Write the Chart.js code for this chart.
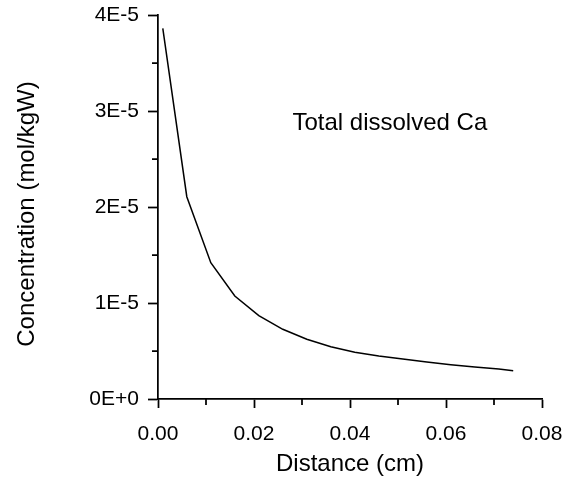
<!DOCTYPE html>
<html>
<head>
<meta charset="utf-8">
<script src="https://cdn.jsdelivr.net/npm/chart.js@4.4.1/dist/chart.umd.min.js"></script>
<style>
  html, body { margin: 0; padding: 0; background: #fff; }
  #wrap { width: 568px; height: 477px; }
</style>
</head>
<body>
<div id="wrap"><canvas id="caChart" width="568" height="477"></canvas></div>
<script>
// distance (cm) and total dissolved Ca (mol/kgW)
const distance = [0.001, 0.006, 0.011, 0.016, 0.021, 0.026, 0.031, 0.036, 0.041, 0.046,
                  0.051, 0.056, 0.061, 0.066, 0.071, 0.074];
const totalCa = [3.86e-5, 2.107e-5, 1.42e-5, 1.073e-5, 0.868e-5, 0.726e-5, 0.622e-5, 0.545e-5,
                 0.486e-5, 0.448e-5, 0.417e-5, 0.385e-5, 0.357e-5, 0.333e-5, 0.313e-5, 0.295e-5];

const xTicks = [0, 0.02, 0.04, 0.06, 0.08];
const yTicks = [0, 1e-5, 2e-5, 3e-5, 4e-5];
const xMinorTicks = [0.01, 0.03, 0.05, 0.07];
const yMinorTicks = [0.5e-5, 1.5e-5, 2.5e-5, 3.5e-5];

const FONT = "'Liberation Sans', Arial, sans-serif";

// format like 4E-5 / 0E+0
function sciLabel(v) {
  if (Math.abs(v) < 1e-12) return '0E+0';
  const e = Math.floor(Math.log10(Math.abs(v)) + 1e-9);
  const m = Math.round(v / Math.pow(10, e));
  return m + 'E' + (e < 0 ? '-' : '+') + Math.abs(e);
}

// keep the plot box where the padding says, ignore label overhang
function noOverhang(s) {
  s.paddingTop = 0;
  s.paddingBottom = 0;
  s.paddingLeft = 0;
  s.paddingRight = 0;
}

// short minor ticks between the labelled ones
const minorTicks = {
  id: 'minorTicks',
  afterDraw(chart) {
    const ctx = chart.ctx;
    const xs = chart.scales.x, ys = chart.scales.y;
    const area = chart.chartArea;
    ctx.save();
    ctx.strokeStyle = '#000';
    ctx.lineWidth = 1.75;
    ctx.beginPath();
    xMinorTicks.forEach(v => {
      const px = xs.getPixelForValue(v);
      ctx.moveTo(px, area.bottom);
      ctx.lineTo(px, area.bottom + 6);
    });
    yMinorTicks.forEach(v => {
      const py = ys.getPixelForValue(v);
      ctx.moveTo(area.left, py);
      ctx.lineTo(area.left - 6, py);
    });
    ctx.stroke();
    ctx.restore();
  }
};

// annotation text and the y axis title
const labels = {
  id: 'labels',
  afterDraw(chart) {
    const ctx = chart.ctx;
    const px = chart.scales.x.getPixelForValue(0.0483);
    const py = chart.scales.y.getPixelForValue(2.8e-5);
    ctx.save();
    ctx.fillStyle = '#000';
    ctx.font = '24px ' + FONT;
    ctx.textAlign = 'center';
    ctx.textBaseline = 'alphabetic';
    ctx.fillText('Total dissolved Ca', px, py);

    const area = chart.chartArea;
    ctx.translate(27, (area.top + area.bottom) / 2 + 7);
    ctx.rotate(-Math.PI / 2);
    ctx.textBaseline = 'middle';
    ctx.fillText('Concentration (mol/kgW)', 0, 0);
    ctx.restore();
  }
};

new Chart(document.getElementById('caChart'), {
  type: 'line',
  data: {
    datasets: [{
      label: 'Total dissolved Ca',
      data: distance.map((d, i) => ({ x: d, y: totalCa[i] })),
      borderColor: '#000',
      borderWidth: 1.5,
      pointRadius: 0,
      fill: false,
      tension: 0
    }]
  },
  options: {
    responsive: false,
    animation: false,
    layout: { padding: { left: 0, right: 26, top: 15, bottom: 0 } },
    plugins: {
      legend: { display: false },
      tooltip: { enabled: false }
    },
    scales: {
      x: {
        type: 'linear',
        min: 0,
        max: 0.08,
        afterBuildTicks: s => { s.ticks = xTicks.map(v => ({ value: v })); },
        afterFit: s => { s.height = 78; noOverhang(s); },
        border: { display: true, color: '#000', width: 1.75 },
        grid: { drawOnChartArea: false, drawTicks: true, tickLength: 9, tickColor: '#000', tickWidth: 1.75 },
        ticks: {
          color: '#000',
          padding: 14,
          maxRotation: 0,
          font: { family: FONT, size: 21 },
          callback: v => Number(v).toFixed(2)
        },
        title: {
          display: true,
          text: 'Distance (cm)',
          color: '#000',
          padding: { top: 0, bottom: 0 },
          font: { family: FONT, size: 24, lineHeight: 1.05 }
        }
      },
      y: {
        type: 'linear',
        min: 0,
        max: 4e-5,
        afterBuildTicks: s => { s.ticks = yTicks.map(v => ({ value: v })); },
        afterFit: s => { s.width = 158; noOverhang(s); },
        border: { display: true, color: '#000', width: 1.75 },
        grid: { drawOnChartArea: false, drawTicks: true, tickLength: 10, tickColor: '#000', tickWidth: 1.75 },
        ticks: {
          color: '#000',
          padding: 9,
          font: { family: FONT, size: 21 },
          callback: v => sciLabel(v)
        }
      }
    }
  },
  plugins: [minorTicks, labels]
});
</script>
</body>
</html>
